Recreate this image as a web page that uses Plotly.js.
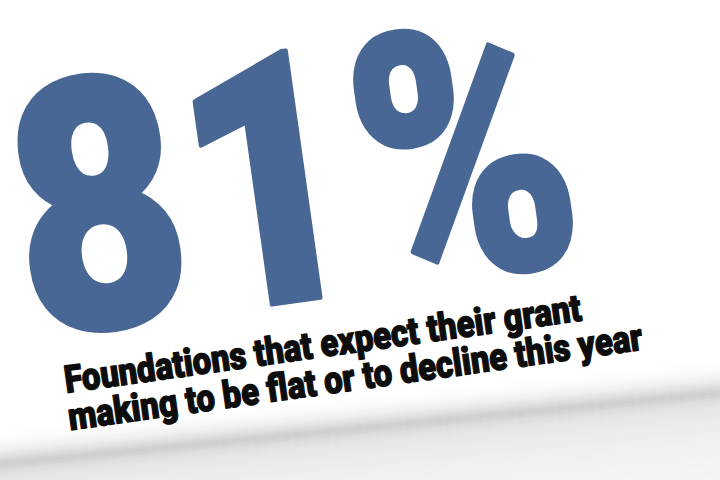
<!DOCTYPE html>
<html>
<head>
<meta charset="utf-8">
<script src="https://cdn.plot.ly/plotly-3.0.1.min.js"></script>
<style>html,body{margin:0;padding:0;background:#fff;}#chart{width:720px;height:480px;}</style>
</head>
<body>
<div id="chart"></div>
<script>
// ---- content ----
const statValue = [81];
const statUnit = ['%'];
const captionLines = [
  'Foundations that expect their grant',
  'making to be flat or to decline this year'
];

// ---- style ----
const statColor = '#486794';
const captionColor = '#0d0d0d';
const tilt = -8;

// card shadow (decoration): edge line and grey profile
const edgeLeft = 465, edgeRight = 390;
const profOff  = [-34, -24, -14, -7, -2, 0, 4, 9, 16, 28, 45, 70, 110];
const profGray = [255, 252, 241, 226, 212, 206, 211, 222, 230, 235, 239, 243, 247];

function grayAt(d){
  if (d <= profOff[0]) return profGray[0];
  for (let i = 1; i < profOff.length; i++){
    if (d <= profOff[i]){
      const t = (d - profOff[i-1]) / (profOff[i] - profOff[i-1]);
      return profGray[i-1] + t * (profGray[i] - profGray[i-1]);
    }
  }
  return profGray[profGray.length-1];
}

const shapes = [];
const step = 2;
for (let d = profOff[0]; d < profOff[profOff.length-1] + 40; d += step){
  const g = Math.round(grayAt(d + step/2));
  const c = 'rgb(' + g + ',' + g + ',' + g + ')';
  const yl0 = edgeLeft + d, yr0 = edgeRight + d;
  const yl1 = yl0 + step + 0.6, yr1 = yr0 + step + 0.6;
  shapes.push({
    type: 'path', xref: 'x', yref: 'y', layer: 'below',
    path: 'M-20,' + yl0 + ' L740,' + yr0 + ' L740,' + yr1 + ' L-20,' + yl1 + ' Z',
    fillcolor: c, line: {width: 0}
  });
}
shapes.push({
  type: 'path', xref: 'x', yref: 'y', layer: 'below',
  path: 'M-20,' + (edgeLeft + 150) + ' L740,' + (edgeRight + 150) + ' L740,600 L-20,600 Z',
  fillcolor: 'rgb(247,247,247)', line: {width: 0}
});

const annotations = [
  {
    xref: 'x', yref: 'y', x: 293, y: 180,
    text: statValue[0] + statUnit[0],
    showarrow: false, textangle: tilt,
    xanchor: 'center', yanchor: 'middle',
    font: {family: 'Roboto, sans-serif', size: 350, weight: 900, color: statColor}
  },
  {
    xref: 'x', yref: 'y', x: 322, y: 344,
    text: captionLines[0],
    showarrow: false, textangle: tilt,
    xanchor: 'center', yanchor: 'middle',
    font: {family: 'Roboto, sans-serif', size: 38, weight: 900, color: captionColor}
  },
  {
    xref: 'x', yref: 'y', x: 355, y: 377,
    text: captionLines[1],
    showarrow: false, textangle: tilt,
    xanchor: 'center', yanchor: 'middle',
    font: {family: 'Roboto, sans-serif', size: 38, weight: 900, color: captionColor}
  }
];
const squeeze = [0.85, 0.865, 0.865];
const strokeW = [5, 1.3, 1.3];

const layout = {
  width: 720, height: 480,
  margin: {l: 0, r: 0, t: 0, b: 0},
  paper_bgcolor: '#ffffff', plot_bgcolor: '#ffffff',
  showlegend: false,
  xaxis: {range: [0, 720], visible: false, fixedrange: true},
  yaxis: {range: [480, 0], visible: false, fixedrange: true},
  shapes: shapes,
  annotations: annotations
};

Plotly.newPlot('chart', [{x: [], y: [], type: 'scatter', mode: 'markers', hoverinfo: 'skip'}], layout,
  {staticPlot: true, displayModeBar: false}).then(function(gd){
  const texts = gd.querySelectorAll('.annotation-text');
  texts.forEach(function(el, i){
    const s = squeeze[i] || 1;
    const col = i === 0 ? statColor : captionColor;
    el.style.stroke = col;
    el.style.strokeWidth = (strokeW[i] || 0) + 'px';
    el.style.strokeLinejoin = 'round';
    const bb = el.getBBox();
    const cx = bb.x + bb.width / 2;
    const prev = el.getAttribute('transform') || '';
    el.setAttribute('transform', prev + ' translate(' + (cx * (1 - s)) + ',0) scale(' + s + ',1)');
  });
});
</script>
</body>
</html>
